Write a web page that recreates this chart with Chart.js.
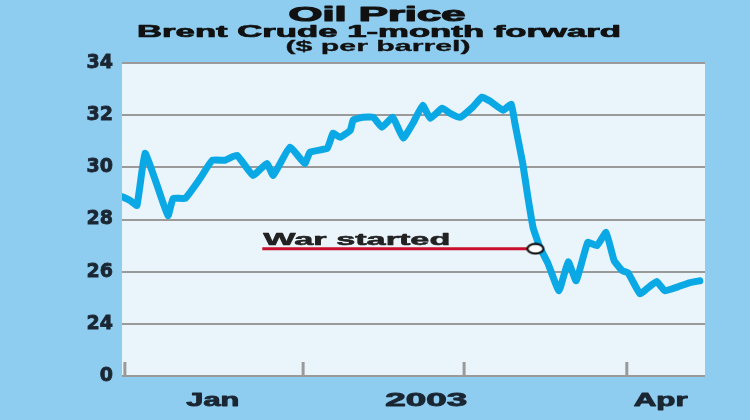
<!DOCTYPE html>
<html><head><meta charset="utf-8">
<script src="https://cdn.jsdelivr.net/npm/chart.js@4"></script>
<style>html,body{margin:0;padding:0;background:#8ecdf0;}canvas{display:block}</style>
</head><body>
<canvas id="c" width="750" height="420"></canvas>
<script>
// ---- data (days from left edge of chart, $ per barrel) ----
const days = [0,1.4,2.6,4.0,6.1,8.0,8.9,11.0,13.6,15.7,17.9,20.0,22.8,25.2,26.3,29.2,31.8,32.7,35.7,36.7,37.9,39.7,40.2,41.9,43.7,45.2,47.1,48.9,50.6,52.3,53.6,55.7,57.0,58.8,61.0,62.6,64.0,66.3,67.7,68.3,69.7,70.6,71.5,72.7,74.1,76.0,77.6,79.0,81.0,82.6,84.2,85.6,87.0,88.0,90.1,91.3,93.0,94.4,96.7,98.8,100.5];
const prices = [28.88,28.73,28.54,30.54,29.31,28.15,28.81,28.81,29.58,30.27,30.27,30.46,29.69,30.15,29.69,30.77,30.15,30.58,30.73,31.31,31.15,31.42,31.81,31.92,31.92,31.54,31.92,31.12,31.69,32.38,31.88,32.27,32.08,31.92,32.31,32.69,32.54,32.19,32.42,31.73,30.15,28.85,27.69,26.92,26.31,25.27,26.38,25.65,27.12,27.0,27.5,26.42,26.04,25.96,25.15,25.35,25.62,25.27,25.42,25.58,25.65];
const yTickValues = [22,24,26,28,30,32,34];
const yTickLabels = ['0','24','26','28','30','32','34'];
const monthTickDays = [0.5,31.5,59.5,87.8];
const xLabels = ['Jan','2003','Apr'];
const xLabelDays = [15.8,52.9,93.7];
const warLineStartDay = 24.4;
const warDay = 71.9;
const warPrice = 26.88;
const annotationText = 'War started';
const titleText = 'Oil Price';
const subtitleText = 'Brent Crude 1-month forward';
const unitText = '($ per barrel)';

// ---- styling helpers ----
const FONT = '"Liberation Sans", Arial, sans-serif';
function stretchText(ctx, text, x, y, font, width, align, color, stroke){
  ctx.save();
  ctx.font = font;
  const w = ctx.measureText(text).width;
  ctx.translate(x, y);
  ctx.scale(width / w, 1);
  ctx.textAlign = align;
  ctx.textBaseline = 'alphabetic';
  ctx.fillStyle = color;
  ctx.fillText(text, 0, 0);
  if (stroke) {
    ctx.lineWidth = stroke;
    ctx.lineJoin = 'round';
    ctx.strokeStyle = color;
    ctx.strokeText(text, 0, 0);
  }
  ctx.restore();
}

// elliptical marker
const marker = document.createElement('canvas');
marker.width = 20; marker.height = 13;
(function(){
  const m = marker.getContext('2d');
  m.beginPath();
  m.ellipse(10, 6.5, 8, 4.8, 0, 0, Math.PI*2);
  m.fillStyle = '#ffffff'; m.fill();
  m.lineWidth = 2.2; m.strokeStyle = '#111'; m.stroke();
})();

const bgPlugin = {
  id: 'bg',
  beforeDraw(chart){
    const {ctx, chartArea: a} = chart;
    ctx.save();
    ctx.fillStyle = '#8ecdf0';
    ctx.fillRect(0, 0, chart.width, chart.height);
    ctx.fillStyle = '#eaf4fb';
    ctx.fillRect(a.left, a.top, a.right - a.left, a.bottom - a.top);
    ctx.restore();
  },
  beforeDatasetsDraw(chart){
    const {ctx, chartArea: a, scales: {x}} = chart;
    ctx.save();
    ctx.strokeStyle = '#9a9a9a';
    ctx.lineWidth = 3;
    monthTickDays.forEach(d => {
      const px = x.getPixelForValue(d);
      ctx.beginPath(); ctx.moveTo(px, a.bottom - 14); ctx.lineTo(px, a.bottom); ctx.stroke();
    });
    ctx.restore();
  },
  afterDraw(chart){
    const {ctx, chartArea: a, scales: {x, y}} = chart;
    stretchText(ctx, titleText, 377, 21, 'bold 20px ' + FONT, 177, 'center', '#111', 1.1);
    stretchText(ctx, subtitleText, 379, 37, 'bold 16px ' + FONT, 484, 'center', '#111', 0.7);
    stretchText(ctx, unitText, 378, 51, 'bold 15px ' + FONT, 185, 'center', '#111', 0.3);
    const widths = [53, 82, 54];
    xLabels.forEach((t, i) => {
      stretchText(ctx, t, x.getPixelForValue(xLabelDays[i]), a.bottom + 30, 'bold 19px ' + FONT, widths[i], 'center', '#1b2633', 0.9);
    });
    stretchText(ctx, annotationText, x.getPixelForValue(warLineStartDay) + 1, y.getPixelForValue(warPrice) - 4, 'bold 17px ' + FONT, 187, 'left', '#222', 0.6);
  }
};

new Chart(document.getElementById('c'), {
  type: 'line',
  data: {
    datasets: [
      {
        data: days.map((d, i) => ({x: d, y: prices[i]})),
        borderColor: '#0aa8e4',
        borderWidth: 7,
        pointRadius: 0,
        tension: 0.12,
        borderJoinStyle: 'round',
        borderCapStyle: 'round',
        order: 2
      },
      {
        data: [{x: warLineStartDay, y: warPrice}, {x: warDay, y: warPrice}],
        borderColor: '#c8102e',
        borderWidth: 3,
        pointRadius: [0, 8],
        pointStyle: ['circle', marker],
        order: 1
      }
    ]
  },
  options: {
    responsive: false,
    animation: false,
    devicePixelRatio: 1,
    layout: {padding: {top: 63, right: 45, bottom: 44, left: 0}},
    plugins: {legend: {display: false}, tooltip: {enabled: false}, title: {display: false}},
    scales: {
      x: {type: 'linear', min: 0, max: 101.4, display: false},
      y: {
        min: 22, max: 34,
        afterBuildTicks(s){ s.ticks = yTickValues.map(v => ({value: v})); },
        afterFit(s){ s.width = 122; },
        border: {display: false},
        grid: {color: '#9a9a9a', lineWidth: 2, drawTicks: false},
        ticks: {
          padding: 9,
          color: '#1b2633',
          textStrokeColor: '#1b2633',
          textStrokeWidth: 0.8,
          font: {family: '"DejaVu Sans"', weight: 'bold', size: 19},
          callback: (v) => yTickLabels[yTickValues.indexOf(v)]
        }
      }
    }
  },
  plugins: [bgPlugin]
});
</script>
</body></html>
